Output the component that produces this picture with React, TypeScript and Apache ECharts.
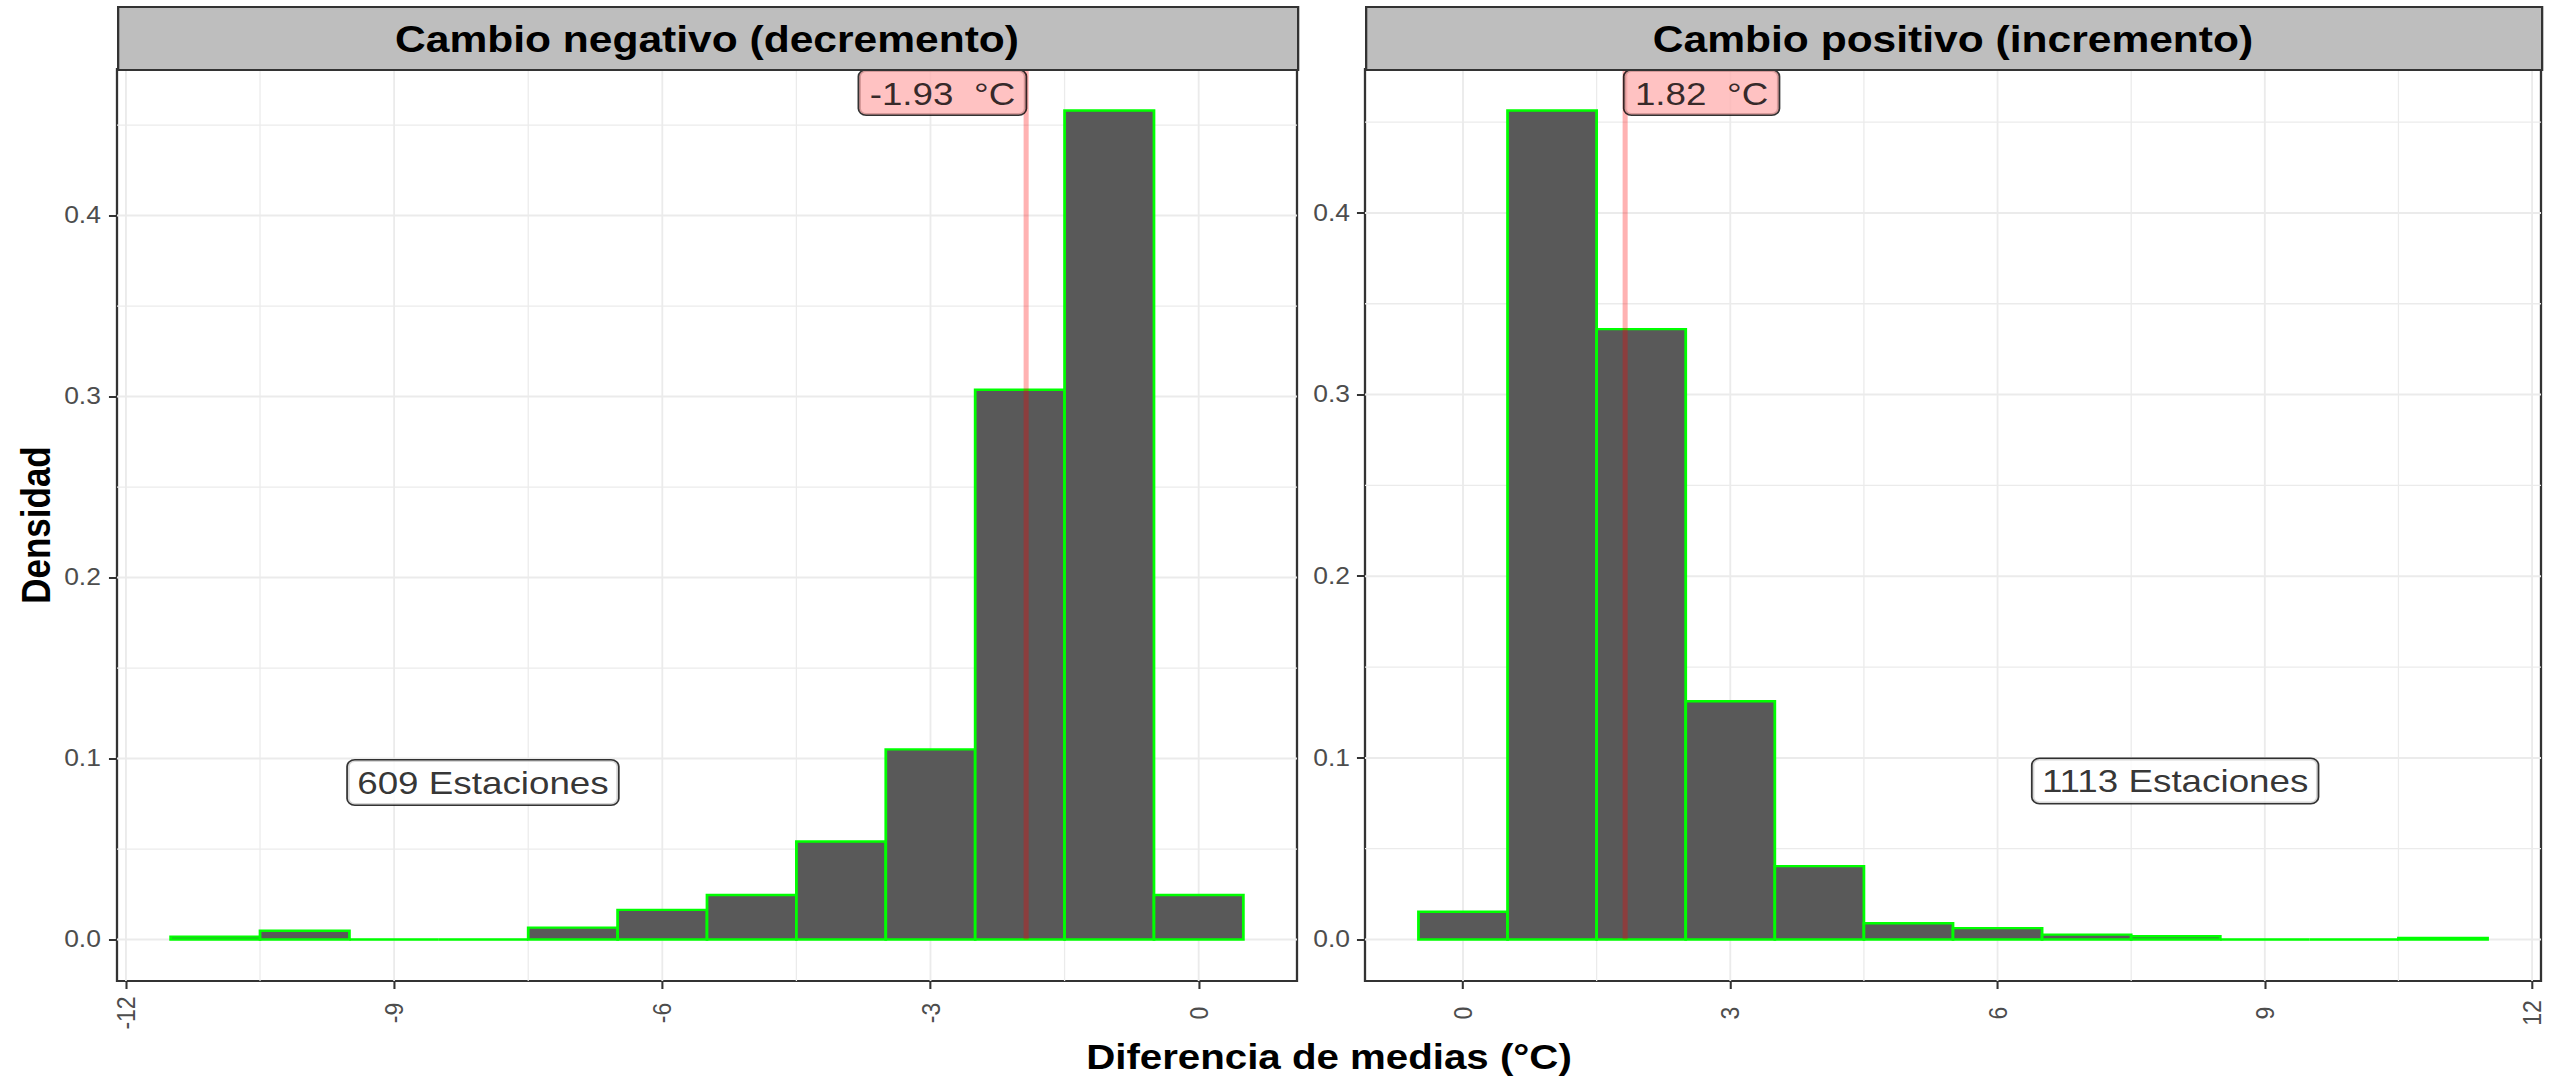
import React, { useEffect, useRef } from "react";
import * as echarts from "echarts";

// ---------- data ----------
const negTitle = "Cambio negativo (decremento)";
const posTitle = "Cambio positivo (incremento)";
const xTitle = "Diferencia de medias (°C)";
const yTitle = "Densidad";

const binWidth = 1;
const negBinCenters = [-11, -10, -9, -8, -7, -6, -5, -4, -3, -2, -1, 0];
const negDensity = [0.0016, 0.0049, 0, 0, 0.0066, 0.0164, 0.0246, 0.0542, 0.1051, 0.3038, 0.4581, 0.0246];
const posBinCenters = [0, 1, 2, 3, 4, 5, 6, 7, 8, 9, 10, 11];
const posDensity = [0.0153, 0.4564, 0.336, 0.1312, 0.0404, 0.009, 0.0063, 0.0027, 0.0018, 0, 0, 0.0009];

const negMean = -1.93;
const posMean = 1.82;
const negStations = 609;
const posStations = 1113;
const stationLabelX = [-8, 8];
const stationLabelY = [0.0865, 0.087];

const negXTicks = [-12, -9, -6, -3, 0];
const negXMinor = [-10.5, -7.5, -4.5, -1.5];
const posXTicks = [0, 3, 6, 9, 12];
const posXMinor = [1.5, 4.5, 7.5, 10.5];
const yTicks = [0, 0.1, 0.2, 0.3, 0.4];
const yMinor = [0.05, 0.15, 0.25, 0.35, 0.45];

// ---------- layout ----------
const SX = 1.15; // horizontal stretch of the reference picture
const PAGE_W = 2552;
const PAGE_H = 1076;
const INNER_W = PAGE_W / SX;
const FONT = "'Liberation Sans', Arial, Helvetica, sans-serif";
const TOP = 69;
const PANEL_H = 912;
const panels = [
  { left: 117 / SX, width: (1297 - 117) / SX },
  { left: 1365 / SX, width: (2541 - 1365) / SX },
];

function expand(lo: number, hi: number) {
  const d = (hi - lo) * 0.05;
  return [lo - d, hi + d];
}

function buildOption() {
  const negX = expand(negBinCenters[0] - binWidth / 2, negBinCenters[negBinCenters.length - 1] + binWidth / 2);
  const posX = expand(posBinCenters[0] - binWidth / 2, posBinCenters[posBinCenters.length - 1] + binWidth / 2);
  const negY = expand(0, Math.max(...negDensity));
  const posY = expand(0, Math.max(...posDensity));

  const cfg = [
    { x: negX, y: negY, xt: negXTicks, xm: negXMinor, centers: negBinCenters, dens: negDensity, mean: negMean, st: negStations, align: "right", title: negTitle, labelMargin: 14 },
    { x: posX, y: posY, xt: posXTicks, xm: posXMinor, centers: posBinCenters, dens: posDensity, mean: posMean, st: posStations, align: "left", title: posTitle, labelMargin: 13 },
  ];

  const grid: any[] = [];
  const xAxis: any[] = [];
  const yAxis: any[] = [];
  const series: any[] = [];
  const graphic: any[] = [];

  cfg.forEach((c, i) => {
    const p = panels[i];
    grid.push({
      left: p.left,
      top: TOP,
      width: p.width,
      height: PANEL_H,
      show: true,
      backgroundColor: "#FFFFFF",
      borderColor: "#333333",
      borderWidth: 2,
      containLabel: false,
    });
    xAxis.push({
      type: "value",
      gridIndex: i,
      position: "bottom",
      min: c.x[0],
      max: c.x[1],
      axisLine: { show: false, onZero: false },
      splitLine: { show: false },
      axisTick: { show: true, length: 8, customValues: c.xt, lineStyle: { color: "#333333", width: 1.8 } },
      axisLabel: {
        show: true,
        customValues: c.xt,
        rotate: 90,
        align: "center",
        verticalAlign: "middle",
        margin: 32,
        color: "#4D4D4D",
        fontSize: 23,
        fontFamily: FONT,
        formatter: (v: number) => String(Math.round(v)),
      },
    });
    yAxis.push({
      type: "value",
      gridIndex: i,
      position: "left",
      min: c.y[0],
      max: c.y[1],
      axisLine: { show: false, onZero: false },
      splitLine: { show: false },
      axisTick: { show: true, length: 7, customValues: yTicks, lineStyle: { color: "#333333", width: 2 } },
      axisLabel: {
        show: true,
        customValues: yTicks,
        margin: c.labelMargin,
        color: "#4D4D4D",
        fontSize: 23,
        fontFamily: FONT,
        formatter: (v: number) => v.toFixed(1),
      },
    });

    // grid lines (kind 0: major vertical, 1: minor vertical, 2: major horizontal, 3: minor horizontal)
    const gl: number[][] = [];
    c.xt.forEach((v) => gl.push([v, 0]));
    c.xm.forEach((v) => gl.push([v, 1]));
    yTicks.forEach((v) => gl.push([v, 2]));
    yMinor.forEach((v) => gl.push([v, 3]));
    series.push({
      type: "custom",
      xAxisIndex: i,
      yAxisIndex: i,
      silent: true,
      z: 1,
      data: gl,
      renderItem: (params: any, api: any) => {
        const v = api.value(0);
        const kind = api.value(1);
        const cs = params.coordSys;
        if (kind < 2) {
          const x = api.coord([v, 0])[0];
          if (x < cs.x || x > cs.x + cs.width) return null;
          return {
            type: "line",
            shape: { x1: x, y1: cs.y, x2: x, y2: cs.y + cs.height },
            style: { stroke: "#EBEBEB", lineWidth: kind === 0 ? 1.6 : 1.1 },
          };
        }
        const y = api.coord([0, v])[1];
        if (y < cs.y || y > cs.y + cs.height) return null;
        return {
          type: "line",
          shape: { x1: cs.x, y1: y, x2: cs.x + cs.width, y2: y },
          style: { stroke: "#EBEBEB", lineWidth: kind === 2 ? 2 : 1.3 },
        };
      },
    });

    // histogram bars
    series.push({
      type: "custom",
      xAxisIndex: i,
      yAxisIndex: i,
      z: 2,
      data: c.centers.map((ct, k) => [ct, c.dens[k]]),
      renderItem: (params: any, api: any) => {
        const ct = api.value(0);
        const d = api.value(1);
        const p0 = api.coord([ct - binWidth / 2, d]);
        const p1 = api.coord([ct + binWidth / 2, 0]);
        return {
          type: "rect",
          shape: { x: p0[0], y: p0[1], width: p1[0] - p0[0], height: p1[1] - p0[1] },
          style: { fill: "#595959", stroke: "#00FF00", lineWidth: 2.4 },
        };
      },
    });

    // mean line
    series.push({
      type: "line",
      xAxisIndex: i,
      yAxisIndex: i,
      z: 3,
      silent: true,
      symbol: "none",
      data: [
        [c.mean, 0],
        [c.mean, c.y[1]],
      ],
      lineStyle: { color: "rgba(255,0,0,0.3)", width: 4.4 },
    });

    // mean label
    series.push({
      type: "scatter",
      xAxisIndex: i,
      yAxisIndex: i,
      z: 4,
      silent: true,
      symbolSize: 1,
      itemStyle: { color: "transparent" },
      data: [[c.mean, c.y[1]]],
      label: {
        show: true,
        position: [0, 2],
        align: c.align,
        verticalAlign: "top",
        formatter: () => `${c.mean.toFixed(2)} \u00A0°C`,
        color: "#000000",
        fontSize: 32,
        fontFamily: FONT,
        backgroundColor: "#FFB3B3",
        borderColor: "#000000",
        borderWidth: 1.5,
        borderRadius: 6,
        padding: [7, 9, 5, 9],
      },
    });

    // stations label
    series.push({
      type: "scatter",
      xAxisIndex: i,
      yAxisIndex: i,
      z: 4,
      silent: true,
      symbolSize: 1,
      itemStyle: { color: "transparent" },
      data: [[stationLabelX[i], stationLabelY[i]]],
      label: {
        show: true,
        position: [0, 0],
        align: "center",
        verticalAlign: "middle",
        formatter: () => `${c.st} Estaciones`,
        color: "#000000",
        fontSize: 32,
        fontFamily: FONT,
        backgroundColor: "#FFFFFF",
        borderColor: "#000000",
        borderWidth: 1.5,
        borderRadius: 6,
        padding: [7, 8, 5, 8],
      },
    });

    // strip header
    graphic.push({
      type: "rect",
      left: p.left,
      top: 6,
      shape: { width: p.width, height: TOP - 6 },
      style: { fill: "#BEBEBE", stroke: "#333333", lineWidth: 2 },
      z: 10,
    });
    graphic.push({
      type: "text",
      x: p.left + p.width / 2,
      y: 39,
      style: {
        text: c.title,
        fill: "#000000",
        font: `bold 37px ${FONT}`,
        textAlign: "center",
        textVerticalAlign: "middle",
      },
      z: 11,
    });
  });

  graphic.push({
    type: "text",
    x: (panels[0].left + panels[1].left + panels[1].width) / 2,
    y: 1057,
    style: { text: xTitle, fill: "#000000", font: `bold 35px ${FONT}`, textAlign: "center", textVerticalAlign: "middle" },
  });
  graphic.push({
    type: "text",
    x: 31,
    y: TOP + PANEL_H / 2,
    rotation: Math.PI / 2,
    style: { text: yTitle, fill: "#000000", font: `bold 35px ${FONT}`, textAlign: "center", textVerticalAlign: "middle" },
  });

  return {
    animation: false,
    backgroundColor: "#FFFFFF",
    textStyle: { fontFamily: FONT },
    grid,
    xAxis,
    yAxis,
    series,
    graphic,
  };
}

export default function App() {
  const ref = useRef<HTMLDivElement>(null);
  useEffect(() => {
    document.body.style.margin = "0";
    const el = ref.current;
    if (!el) return;
    const chart = echarts.init(el, null, { renderer: "svg" });
    chart.setOption(buildOption() as any);
    return () => chart.dispose();
  }, []);
  return (
    <div style={{ width: PAGE_W, height: PAGE_H, overflow: "hidden", background: "#FFFFFF" }}>
      <div
        ref={ref}
        style={{ width: INNER_W, height: PAGE_H, transform: `scaleX(${SX})`, transformOrigin: "0 0" }}
      />
    </div>
  );
}
